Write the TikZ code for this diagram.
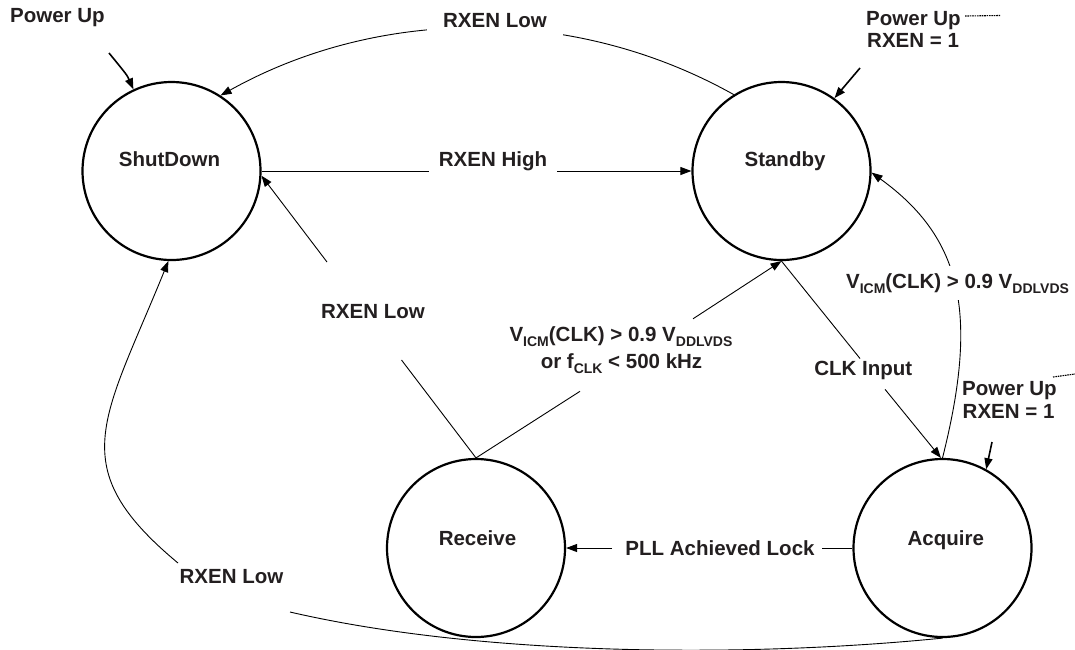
\documentclass[tikz,border=0pt]{standalone}
\usepackage{fontspec}
\setmainfont{Liberation Sans}
\usetikzlibrary{arrows.meta}
\definecolor{ink}{RGB}{35,31,32}
\newcommand{\sbx}[1]{\raisebox{-5pt}{\fontsize{14}{14}\selectfont #1}}
\begin{document}
\begin{tikzpicture}[x=1pt,y=-1pt,
  state/.style={circle,draw=black,line width=2.2pt,minimum size=178pt,inner sep=0pt},
  lbl/.style={font=\bfseries\fontsize{20.5}{24}\selectfont,text=ink,inner sep=0pt},
  gap/.style={fill=white},
  conn/.style={draw=black,line width=0.9pt},
  arr/.style={conn,-{Triangle[length=11pt,width=8pt]}},
  pwr/.style={draw=black,line width=1.6pt,-{Triangle[length=11pt,width=8pt]}},
  dots/.style={draw=black,line width=1.1pt,dash pattern=on 1.6pt off 0.8pt}
]
\useasboundingbox (0,0) rectangle (1075,649);

% states
\node[state] (sd) at (171.5,171) {};
\node[state] (sb) at (781.5,171) {};
\node[state] (rc) at (476,548) {};
\node[state] (aq) at (942.5,548) {};

% state texts
\node[lbl,anchor=base] (sdt) at (169.5,166) {ShutDown};
\node[lbl,anchor=base] (sbt) at (785,166) {Standby};
\node[lbl,anchor=base] (rct) at (477.5,545) {Receive};
\node[lbl,anchor=base] (aqt) at (945.8,545) {Acquire};

% free ends of connectors (gaps around labels)
\coordinate (hA) at (429,171);
\coordinate (hB) at (557,171);
\coordinate (lA) at (401.5,360);
\coordinate (lB) at (327,262);
\coordinate (vA) at (580,391.3);
\coordinate (vB) at (693,318.8);
\coordinate (cA) at (860,358.5);
\coordinate (cB) at (885,389.3);
\coordinate (pA) at (822,548);
\coordinate (pB) at (612,548);
\coordinate (bA) at (290,612);
\coordinate (bB) at (178,563);
\coordinate (p1) at (109,53);
\coordinate (p2) at (860,68);
\coordinate (p3) at (992,442);
\coordinate (d2a) at (965,16);
\coordinate (d2b) at (1000,15.5);
\coordinate (d3a) at (1053,377);
\coordinate (d3b) at (1075,374);

% connectors
\draw[arr] (sb.122) .. controls (574,5) and (379,7) .. (sd.57);
\draw[conn] (sd.east) -- (hA);
\draw[arr] (hB) -- (sb.west);
\draw[conn] (rc.north) -- (lA);
\draw[arr] (lB) -- (sd.-3);
\draw[conn] (rc.north) -- (vA);
\draw[arr] (vB) -- (sb.south);
\draw[conn] (sb.south) -- (cA);
\draw[arr] (cB) -- (aq.91);
\draw[conn] (aq.west) -- (pA);
\draw[arr] (pB) -- (rc.east);
\draw[arr] (aq.90) .. controls (979,313) and (962,238) .. (sb.-1);
\draw[conn] (aq.south) .. controls (743,658) and (480,656) .. (bA);
\draw[arr] (bB) .. controls (62.5,467) and (103.4,421) .. (sd.-92);

% power up arrows
\draw[pwr] (p1) .. controls (127,75) .. (sd.115);
\draw[pwr] (p2) -- (sb.54);
\draw[pwr] (p3) -- (aq.61);
\draw[dots] (d2a) -- (d2b);
\draw[dots] (d3a) -- (d3b);

% labels
\node[lbl,gap,inner xsep=16pt,inner ysep=10pt,anchor=base] (l1) at (495,27) {RXEN Low};
\node[lbl,anchor=base] (l2) at (493,166) {RXEN High};
\node[lbl,anchor=base] (l3) at (373,318) {RXEN Low};
\node[lbl,anchor=base] (l4a) at (621,341.5) {V\sbx{ICM}(CLK) > 0.9 V\sbx{DDLVDS}};
\node[lbl,anchor=base] (l4b) at (621.5,368.5) {or f\sbx{CLK} < 500 kHz};
\node[lbl,anchor=base] (l5) at (863.3,375) {CLK Input};
\node[lbl,gap,inner xsep=2pt,inner ysep=7pt,anchor=base] (l6) at (957.5,288) {V\sbx{ICM}(CLK) > 0.9 V\sbx{DDLVDS}};
\node[lbl,anchor=base] (l7) at (720,555) {PLL Achieved Lock};
\node[lbl,anchor=base] (l8) at (231.5,583) {RXEN Low};
\node[lbl,anchor=base west] (pu1) at (10,22) {Power Up};
\node[lbl,anchor=base west] (pu2a) at (866,25) {Power Up};
\node[lbl,anchor=base west] (pu2b) at (867,47.3) {RXEN = 1};
\node[lbl,anchor=base west] (pu3a) at (962,395.5) {Power Up};
\node[lbl,anchor=base west] (pu3b) at (962.5,418.5) {RXEN = 1};
\end{tikzpicture}
\end{document}
